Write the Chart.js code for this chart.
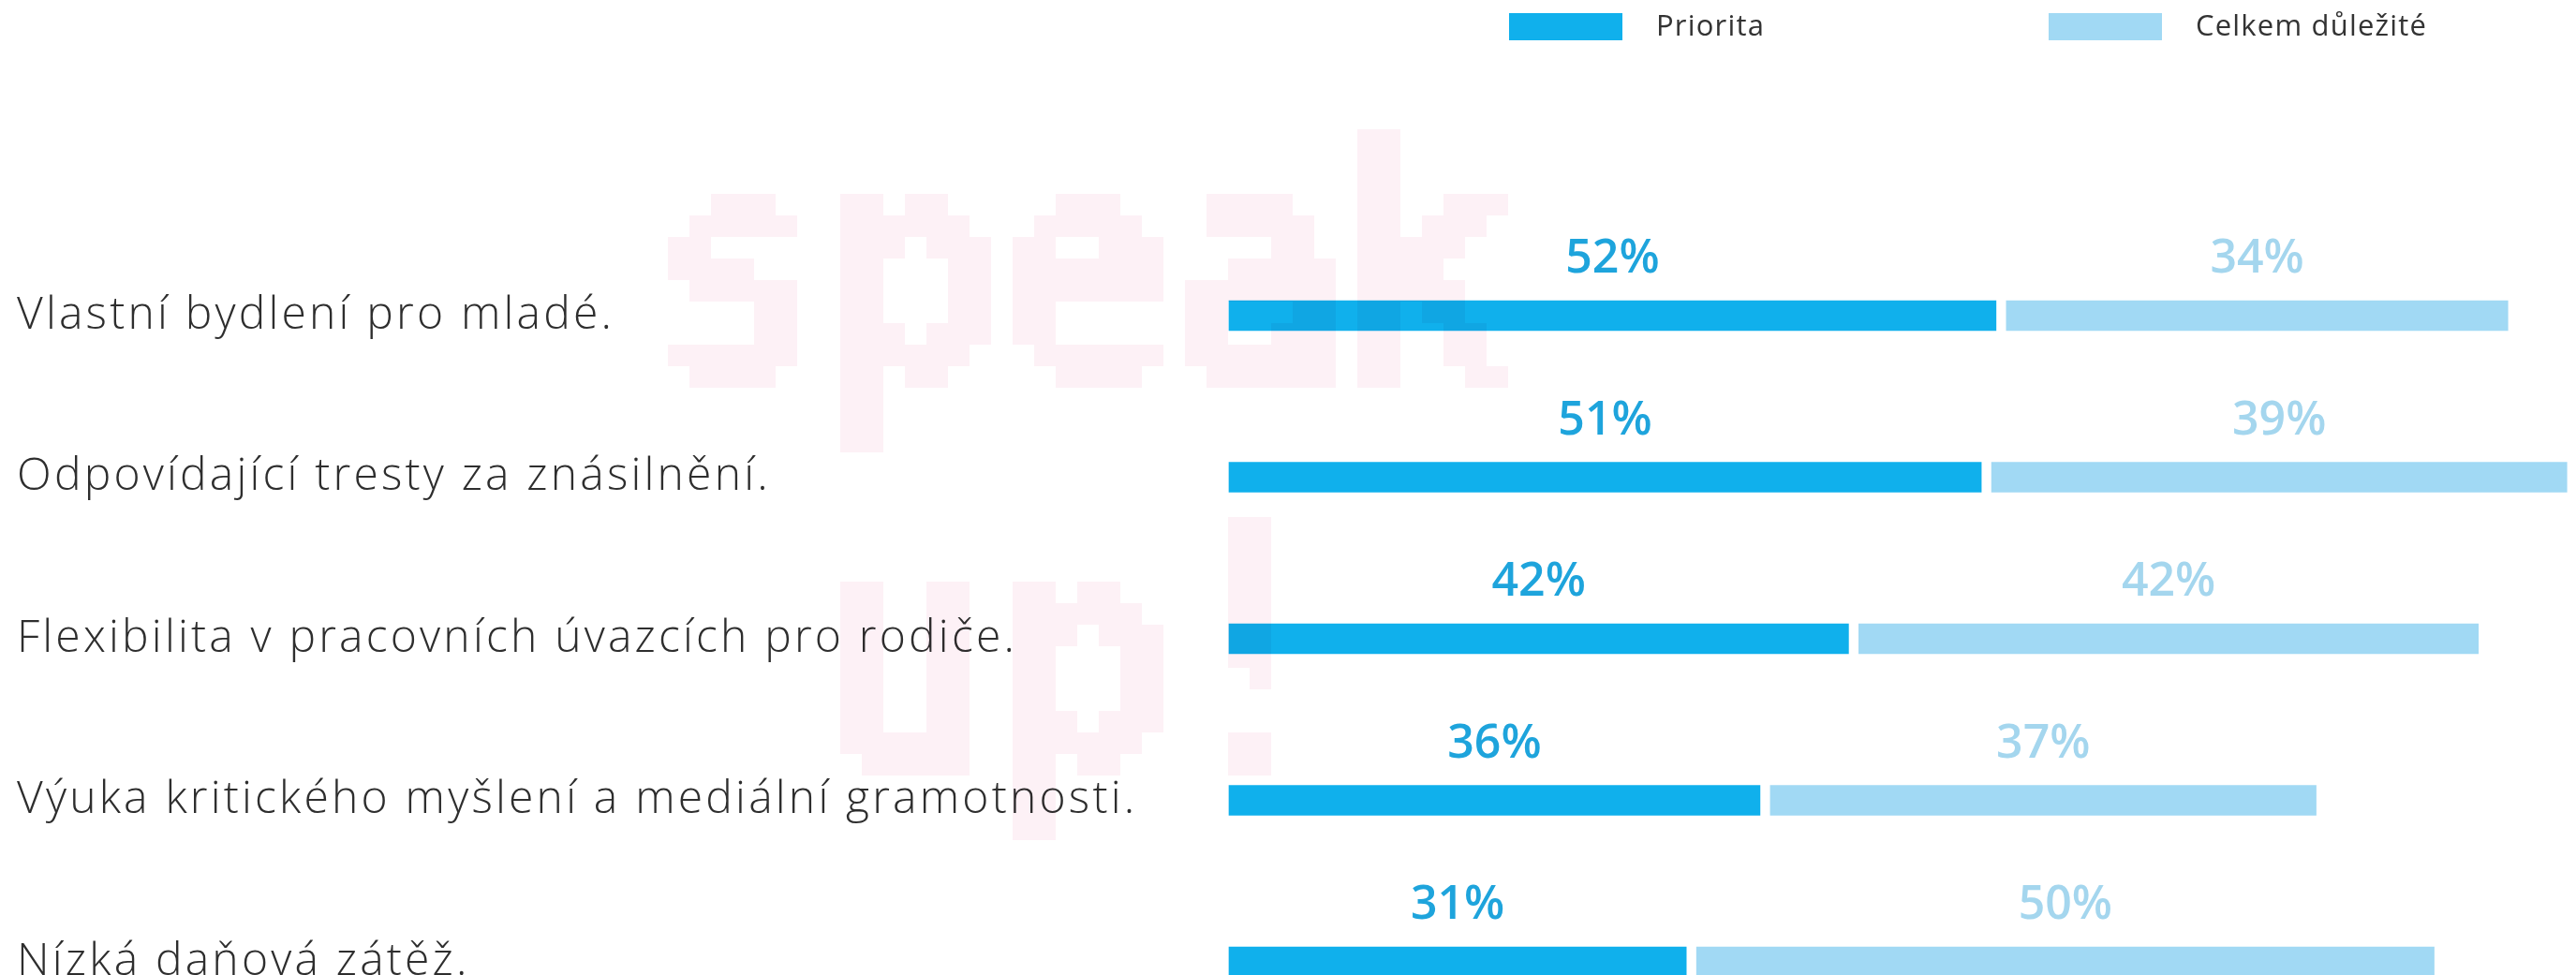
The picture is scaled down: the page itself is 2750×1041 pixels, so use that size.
<!DOCTYPE html>
<html>
<head>
<meta charset="utf-8">
<script src="https://cdn.jsdelivr.net/npm/chart.js@4.4.1/dist/chart.umd.min.js"></script>
<style>
html,body{margin:0;padding:0;background:#ffffff;overflow:hidden;}
#wrap{width:2750px;height:1041px;position:relative;}
</style>
</head>
<body>
<div id="wrap"><canvas id="chart" width="2750" height="1041"></canvas></div>
<script>
// ---- data ----
const categories = [
  'Vlastní bydlení pro mladé.',
  'Odpovídající tresty za znásilnění.',
  'Flexibilita v pracovních úvazcích pro rodiče.',
  'Výuka kritického myšlení a mediální gramotnosti.',
  'Nízká daňová zátěž.'
];
const seriesNames = ['Priorita', 'Celkem důležité'];
const priorita = [52, 51, 42, 36, 31];
const celkemDulezite = [34, 39, 42, 37, 50];
const watermarkLines = ['speak', 'up!'];

// ---- styles ----
const barColors = ['#10b0ec', '#a1d9f4'];
const valueColors = ['#1ea4dc', '#a4d6ee'];
const GAP = 11;
const FONT = "'Open Sans', 'Noto Sans', sans-serif";

const letterSpacingForTicks = {
  id: 'letterSpacingForTicks',
  beforeDraw(chart) { chart.ctx.letterSpacing = '3.2px'; },
  beforeDatasetsDraw(chart) { chart.ctx.letterSpacing = '0px'; }
};

const gapShift = {
  id: 'gapShift',
  beforeDatasetDraw(chart, args) {
    if (args.index === 1) { chart.ctx.save(); chart.ctx.translate(GAP, 0); }
  },
  afterDatasetDraw(chart, args) {
    if (args.index === 1) chart.ctx.restore();
  }
};

const valueLabels = {
  id: 'valueLabels',
  afterDatasetsDraw(chart) {
    const ctx = chart.ctx;
    ctx.save();
    ctx.letterSpacing = '0px';
    ctx.font = "600 50px " + FONT;
    ctx.textAlign = 'center';
    ctx.textBaseline = 'middle';
    chart.data.datasets.forEach((ds, di) => {
      const meta = chart.getDatasetMeta(di);
      meta.data.forEach((el, i) => {
        const shift = di === 1 ? GAP : 0;
        const cx = (el.x + el.base) / 2 + shift;
        ctx.fillStyle = valueColors[di];
        ctx.fillText(ds.data[i] + '%', cx, el.y - 60);
      });
    });
    ctx.restore();
  }
};

const customLegend = {
  id: 'customLegend',
  afterDraw(chart) {
    const ctx = chart.ctx;
    const boxX = [1611, 2187];
    ctx.save();
    ctx.letterSpacing = '1.2px';
    ctx.font = "400 31px " + FONT;
    ctx.textBaseline = 'middle';
    ctx.textAlign = 'left';
    chart.data.datasets.forEach((ds, di) => {
      ctx.fillStyle = ds.backgroundColor;
      ctx.fillRect(boxX[di], 14, 121, 29);
      ctx.fillStyle = '#333333';
      ctx.fillText(ds.label, boxX[di] + 157, 29);
    });
    ctx.restore();
  }
};

// pale pixelated "speak up!" watermark
const watermark = {
  id: 'watermark',
  afterDraw(chart) {
    const U = 23;
    const SY = 1.2;
    const W = Math.ceil(chart.width / U), H = Math.ceil(chart.height / U);
    const off = document.createElement('canvas');
    off.width = W; off.height = H;
    const o = off.getContext('2d');
    o.save();
    o.scale(1 / U, SY / U);
    o.fillStyle = '#000';
    o.font = "bold 307px 'DejaVu Sans Mono', monospace";
    o.textBaseline = 'alphabetic';
    o.fillText(watermarkLines[0], 695, 404 / SY);
    o.fillText(watermarkLines[1], 880, 828 / SY);
    o.restore();
    const img = o.getImageData(0, 0, W, H);
    const d = img.data;
    for (let k = 0; k < d.length; k += 4) {
      const on = d[k + 3] > 110;
      d[k] = 253; d[k + 1] = 241; d[k + 2] = 246; d[k + 3] = on ? 255 : 0;
    }
    o.putImageData(img, 0, 0);
    const ctx = chart.ctx;
    ctx.save();
    ctx.globalCompositeOperation = 'multiply';
    ctx.imageSmoothingEnabled = false;
    ctx.drawImage(off, 0, 0, W * U, H * U);
    ctx.restore();
  }
};

new Chart(document.getElementById('chart'), {
  type: 'bar',
  data: {
    labels: categories,
    datasets: [
      { label: seriesNames[0], data: priorita, backgroundColor: barColors[0] },
      { label: seriesNames[1], data: celkemDulezite, backgroundColor: barColors[1] }
    ]
  },
  options: {
    indexAxis: 'y',
    responsive: false,
    animation: false,
    devicePixelRatio: 1,
    layout: { padding: { left: 18, right: 5, top: 337, bottom: 14 } },
    datasets: {
      bar: { barThickness: 32, borderWidth: 0, borderSkipped: false, clip: false }
    },
    plugins: {
      legend: { display: false },
      tooltip: { enabled: false }
    },
    scales: {
      x: {
        stacked: true, min: 0, max: 91, display: false
      },
      y: {
        stacked: true,
        offset: false,
        grid: { display: false, offset: false },
        border: { display: false },
        ticks: {
          crossAlign: 'far',
          padding: 0,
          autoSkip: false,
          color: '#2e2e2e',
          font: { family: FONT, size: 48, weight: '300' }
        },
        afterFit(scale) {
          scale.width = 1294;
          scale.paddingTop = 0;
          scale.paddingBottom = 0;
        }
      }
    }
  },
  plugins: [letterSpacingForTicks, gapShift, valueLabels, customLegend, watermark]
});
</script>
</body>
</html>
